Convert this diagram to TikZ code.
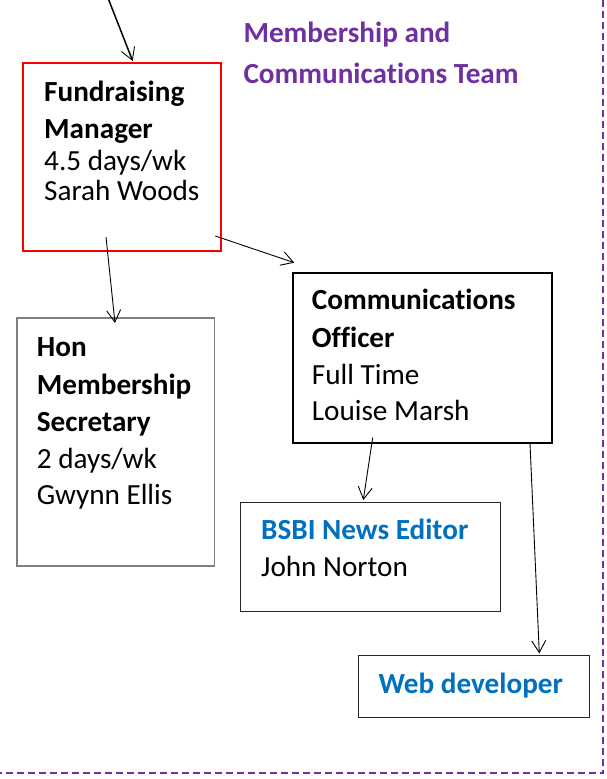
\documentclass[tikz,border=0pt]{standalone}
\usepackage{fontspec}
\setmainfont{Carlito}[Ligatures={NoCommon,NoContextual}]
\usetikzlibrary{arrows.meta,calc}
\definecolor{tpurple}{HTML}{7030A0}
\definecolor{tblue}{HTML}{0070C0}
\definecolor{tred}{HTML}{FF0000}
\definecolor{tgray}{HTML}{7F7F7F}
\begin{document}
\begin{tikzpicture}[x=1pt,y=-1pt,
  box/.style={draw, rectangle, anchor=north west, inner sep=0pt},
  txt/.style={anchor=base west, inner sep=0pt, font=\fontsize{29.2}{34}\selectfont},
  btxt/.style={txt, font=\fontsize{29.2}{34}\selectfont\bfseries},
  arr/.style={draw, line width=0.9pt, -{Straight Barb[length=12pt,width=14pt,line width=0.9pt]}}
]
\useasboundingbox (0,0) rectangle (607,779);
% team boundary
\draw[tpurple, line width=2pt, dash pattern=on 7pt off 4pt] (-5,773.3) -- (603.3,773.3) -- (603.3,-5);
% title
\node[btxt, text=tpurple] (t1) at (243.3,42.3) {Membership and};
\node[btxt, text=tpurple] (t2) at (243.3,83.3) {Communications Team};
% boxes
\node[box, draw=tred, line width=2pt, minimum width=198pt, minimum height=188pt] (fm) at (22,62) {};
\node[box, draw=tgray, line width=1.5pt, minimum width=197.5pt, minimum height=248pt] (hon) at (16,317) {};
\node[box, line width=1.5pt, minimum width=259pt, minimum height=170pt] (comm) at (292,272) {};
\node[box, draw=black!85, line width=1.2pt, minimum width=260.5pt, minimum height=109pt] (bsbi) at (239.5,501.5) {};
\node[box, draw=black!85, line width=1.2pt, minimum width=231pt, minimum height=61.5pt] (web) at (357.5,655) {};
% texts
\node[btxt] (fm1) at (44,101.7) {Fundraising};
\node[btxt] (fm2) at (44,138.3) {Manager};
\node[txt] (fm3) at (44,170) {4.5 days/wk};
\node[txt] (fm4) at (44,200.7) {Sarah Woods};
\node[btxt] (h1) at (36.7,356) {Hon};
\node[btxt] (h2) at (36.7,394) {Membership};
\node[btxt] (h3) at (36.7,431.7) {Secretary};
\node[txt] (h4) at (36.7,468.3) {2 days/wk};
\node[txt] (h5) at (36.7,504.3) {Gwynn Ellis};
\node[btxt] (c1) at (311.7,309.3) {Communications};
\node[btxt] (c2) at (311.7,347.7) {Officer};
\node[txt] (c3) at (311.7,384.3) {Full Time};
\node[txt] (c4) at (311.7,420) {Louise Marsh};
\node[btxt, text=tblue] (b1) at (261,539.3) {BSBI News Editor};
\node[txt] (b2) at (261,576) {John Norton};
\node[btxt, text=tblue] (w1) at (378.3,693.3) {Web developer};
% connectors
\coordinate (above) at (108,-2);
\draw[arr, line width=1.5pt] (above) -- ($(fm.north west)+(110.7,-1)$);
\draw[arr] ($(fm.south west)+(84,-15)$) -- ($(hon.north west)+(99,6)$);
\draw[arr] ($(fm.south east)+(-6.7,-16)$) -- ($(comm.north west)+(2.3,-9.3)$);
\draw[arr] ($(comm.south west)+(80.7,-6)$) -- ($(bsbi.north west)+(123.8,-1.5)$);
\draw[arr] ($(comm.south west)+(238,0)$) -- ($(web.north west)+(181.8,-1.5)$);
\end{tikzpicture}
\end{document}
